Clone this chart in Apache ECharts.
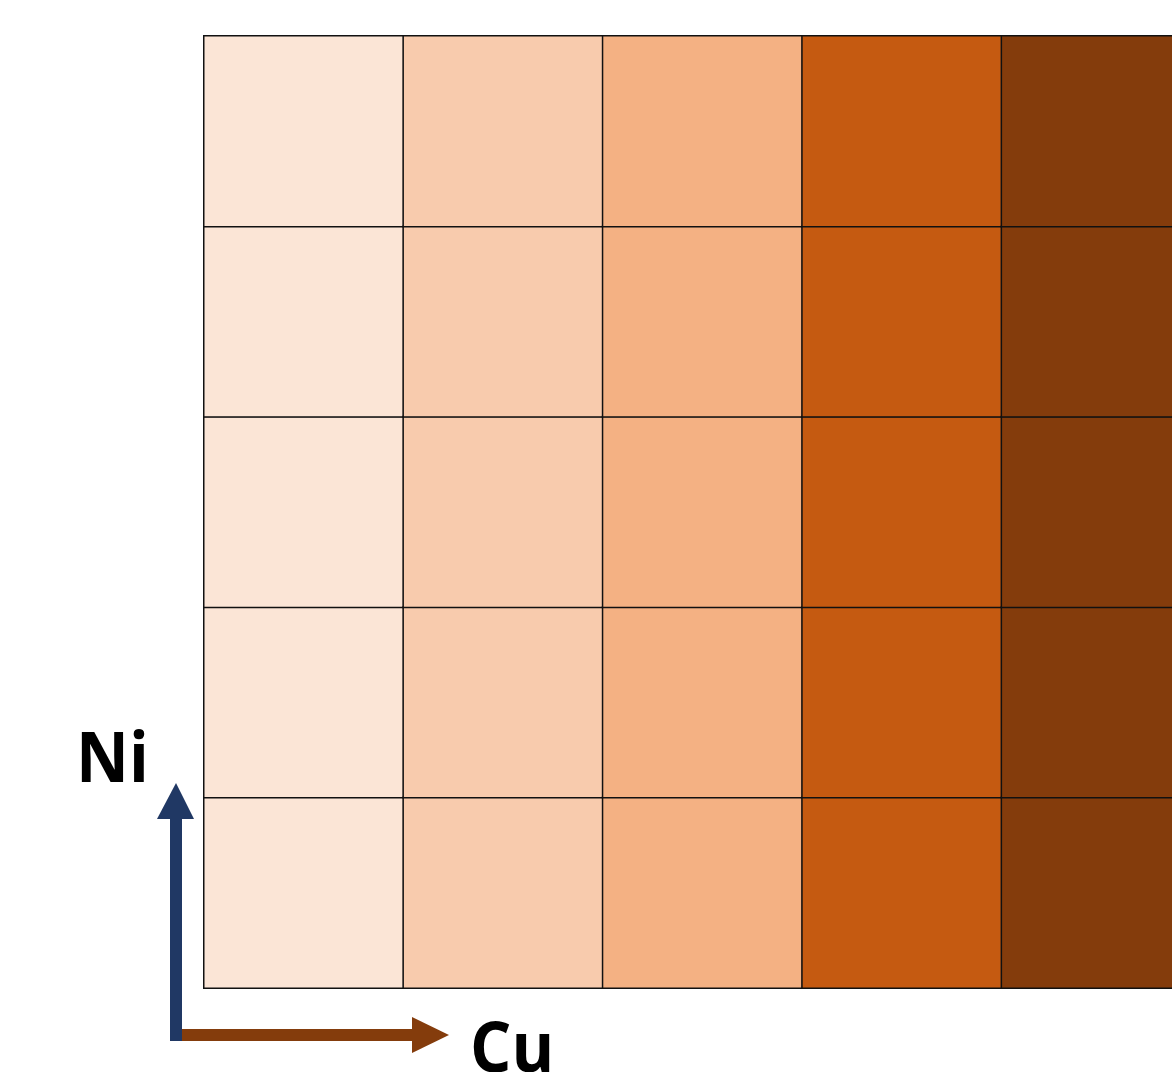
<!DOCTYPE html>
<html>
<head>
<meta charset="utf-8">
<script src="https://cdn.jsdelivr.net/npm/echarts@6/dist/echarts.min.js"></script>
<style>html,body{margin:0;padding:0;background:#fff;overflow:hidden;}#c{width:1205px;height:1072px;}</style>
</head>
<body>
<div id="c"></div>
<script>
// Cu level along x (columns), Ni level along y (rows)
const cuLevels = ['1', '2', '3', '4', '5'];
const niLevels = ['1', '2', '3', '4', '5'];
// value of each cell = Cu level index (colour depends only on Cu)
const cellValues = [
  [0, 0, 0, 0, 0],
  [1, 1, 1, 1, 1],
  [2, 2, 2, 2, 2],
  [3, 3, 3, 3, 3],
  [4, 4, 4, 4, 4]
]; // cellValues[cu][ni]
const levelColors = ['#FBE5D6', '#F8CBAD', '#F4B183', '#C55A11', '#843C0C'];

const data = [];
cellValues.forEach((col, x) => col.forEach((v, y) => data.push([x, y, v])));

const chart = echarts.init(document.getElementById('c'));
chart.setOption({
  animation: false,
  grid: { left: 204, top: 36, width: 997, height: 952 },
  xAxis: { type: 'category', data: cuLevels, show: false },
  yAxis: { type: 'category', data: niLevels, show: false },
  visualMap: {
    show: false,
    type: 'piecewise',
    dimension: 2,
    pieces: levelColors.map((c, i) => ({ value: i, color: c }))
  },
  series: [{
    type: 'heatmap',
    data: data,
    itemStyle: { borderColor: '#111', borderWidth: 1.5 },
    emphasis: { disabled: true }
  }],
  graphic: [
    // Ni arrow (vertical)
    { type: 'rect', shape: { x: 170, y: 815, width: 12, height: 226 }, style: { fill: '#203864' } },
    { type: 'polygon', shape: { points: [[157, 819], [194, 819], [176, 783]] }, style: { fill: '#203864' } },
    // Cu arrow (horizontal)
    { type: 'rect', shape: { x: 182, y: 1029, width: 234, height: 12 }, style: { fill: '#843C0C' } },
    { type: 'polygon', shape: { points: [[412, 1017], [412, 1053], [449, 1035]] }, style: { fill: '#843C0C' } },
    { type: 'text', x: 76, y: 797, scaleX: 0.93, style: { text: 'Ni', font: 'bold 70px "Open Sans", sans-serif', fill: '#000', textVerticalAlign: 'bottom' } },
    { type: 'text', x: 470, y: 1087, scaleX: 0.93, style: { text: 'Cu', font: 'bold 70px "Open Sans", sans-serif', fill: '#000', textVerticalAlign: 'bottom' } }
  ]
});
</script>
</body>
</html>
